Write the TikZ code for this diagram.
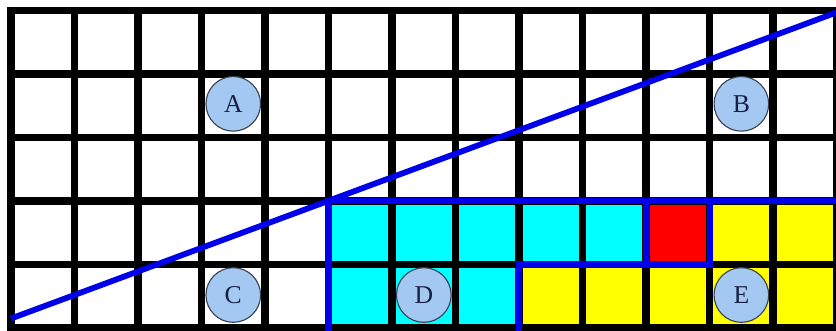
\documentclass[tikz,border=0pt]{standalone}
\usepackage{fontspec}
\setmainfont{Liberation Serif}
\definecolor{circfill}{RGB}{163,201,243}
\definecolor{circline}{RGB}{60,64,80}
\definecolor{letter}{RGB}{25,30,70}
\definecolor{lineblue}{RGB}{0,0,235}
\definecolor{cellcyan}{RGB}{0,255,255}
\definecolor{cellred}{RGB}{255,0,0}
\definecolor{cellyellow}{RGB}{255,255,0}
\tikzset{
  gridline/.style={line width=3.3pt, black, line cap=rect},
  outline/.style={line width=2.8pt, lineblue, line cap=rect},
  diag/.style={line width=2.6pt, lineblue},
  marker/.style={circle, fill=circfill, draw=circline, line width=0.5pt,
    minimum size=0.86cm, inner sep=0pt, text=letter,
    font=\fontsize{11.5}{13}\selectfont},
}
\begin{document}
\begin{tikzpicture}
\useasboundingbox (-0.173,-0.031) rectangle (12.99,5.165);
% coloured cells
\fill[cellcyan] (5,0) rectangle (8,1);
\fill[cellcyan] (5,1) rectangle (10,2);
\fill[cellred] (10,1) rectangle (11,2);
\fill[cellyellow] (11,1) rectangle (13,2);
\fill[cellyellow] (8,0) rectangle (13,1);
% grid
\draw[gridline] (0,0) grid (13,5);
% blue outlines
\draw[outline] (5,0) -- (5,2) -- (13,2);
\draw[outline] (8,0) -- (8,1) -- (11,1) -- (11,2);
\draw[outline] (10,1) -- (10,2);
% diagonal
\coordinate (dstart) at (0,0.15);
\coordinate (dend) at (13,4.97);
\draw[diag] (dstart) -- (dend);
% markers
\node[marker] (A) at (3.5,3.53) {A};
\node[marker] (B) at (11.5,3.53) {B};
\node[marker] (C) at (3.5,0.52) {C};
\node[marker] (D) at (6.5,0.52) {D};
\node[marker] (E) at (11.5,0.52) {E};
\end{tikzpicture}
\end{document}
